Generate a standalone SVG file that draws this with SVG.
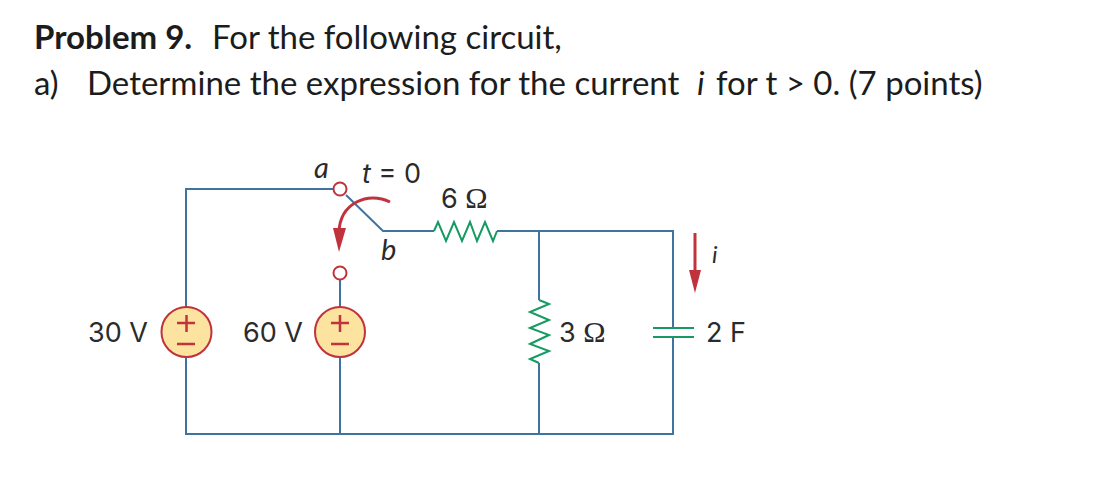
<svg xmlns="http://www.w3.org/2000/svg" width="1109" height="483" viewBox="0 0 1109 483">
<style>
.h{font-family:"Lato","Liberation Sans",sans-serif;font-size:33px;fill:#1c1c1c}
.l{font-family:"Inter","Liberation Sans",sans-serif;font-size:27px;fill:#2b2b2b}
.s{font-family:"Liberation Serif",serif;font-size:30px;fill:#2b2b2b}
.it{font-family:"Lato","Liberation Sans",sans-serif;font-style:italic;font-size:29px;fill:#2b2b2b}
.w{fill:none;stroke:#3f74a0;stroke-width:2}
.g{fill:none;stroke:#159a62;stroke-width:2}
.r{fill:#fff;stroke:#c0323c;stroke-width:2}
.v{fill:#fde3a0;stroke:#c0323c;stroke-width:2}
.p{fill:none;stroke:#c0323c;stroke-width:2.500}
.a{fill:#c0323c}
.red{fill:none;stroke:#c0323c;stroke-width:3}
</style>
<rect width="1109" height="483" fill="#fff"/>
<g id="heading">
<text class="h" x="34" y="49" font-weight="700">Problem 9.</text>
<text class="h" x="212" y="49">For the following circuit,</text>
<text class="h" x="34" y="95">a)</text>
<text class="h" x="87" y="95">Determine the expression for the current</text>
<text class="h" x="697" y="95" font-style="italic">i</text>
<text class="h" x="716" y="95">for t &gt; 0. (7 points)</text>
</g>
<g id="connectors">
<path class="w" d="M186 307V189H334"/>
<path class="w" d="M186 357V434H673V231H497"/>
<path class="w" d="M340 280V307M340 357V434"/>
<path class="w" d="M346 195L383 231H434"/>
<path class="w" d="M539 231V300M539 363V434"/>
</g>
<g id="source-30v">
<circle class="v" cx="186.500" cy="332" r="25"/>
<path class="p" d="M186.500 315V332M177 323H195M177 344H195"/>
<text class="l" x="88" y="342">30 V</text>
</g>
<g id="source-60v">
<circle class="v" cx="340" cy="332" r="25"/>
<path class="p" d="M340 315V332M331 323H349M331 344H349"/>
<text class="l" x="243" y="342">60 V</text>
</g>
<g id="switch">
<circle class="r" cx="340" cy="189" r="6.500"/>
<circle class="r" cx="340" cy="273" r="6.500"/>
<path class="red" d="M390 202C368 191 340 203 339 232"/>
<polygon class="a" points="333,228 346,228 339,252"/>
<text class="it" x="314" y="178">a</text>
<text class="it" x="381" y="260">b</text>
<text class="l" x="362" y="183"><tspan font-style="italic">t</tspan> = 0</text>
</g>
<g id="resistor-6">
<path class="g" d="M434 231L438 222L446 241L454 222L462 241L470 222L477 241L485 222L493 241L497 231"/>
<text class="l" x="441" y="208">6 <tspan class="s">Ω</tspan></text>
</g>
<g id="resistor-3">
<path class="g" d="M539 300L549 304L530 312L549 320L530 328L549 335L530 344L549 351L530 359L539 363"/>
<text class="l" x="559" y="342">3 <tspan class="s">Ω</tspan></text>
</g>
<g id="capacitor">
<path fill="#fff" d="M652 329h42v7h-42z"/>
<path class="g" d="M653 328H694M653 337H694"/>
<text class="l" x="706" y="342">2 F</text>
</g>
<g id="current-i">
<path class="red" d="M695 233V272"/>
<polygon class="a" points="689,270 701,270 695,293"/>
<text class="it" x="712" y="263" style="font-size:24px">i</text>
</g>
</svg>
